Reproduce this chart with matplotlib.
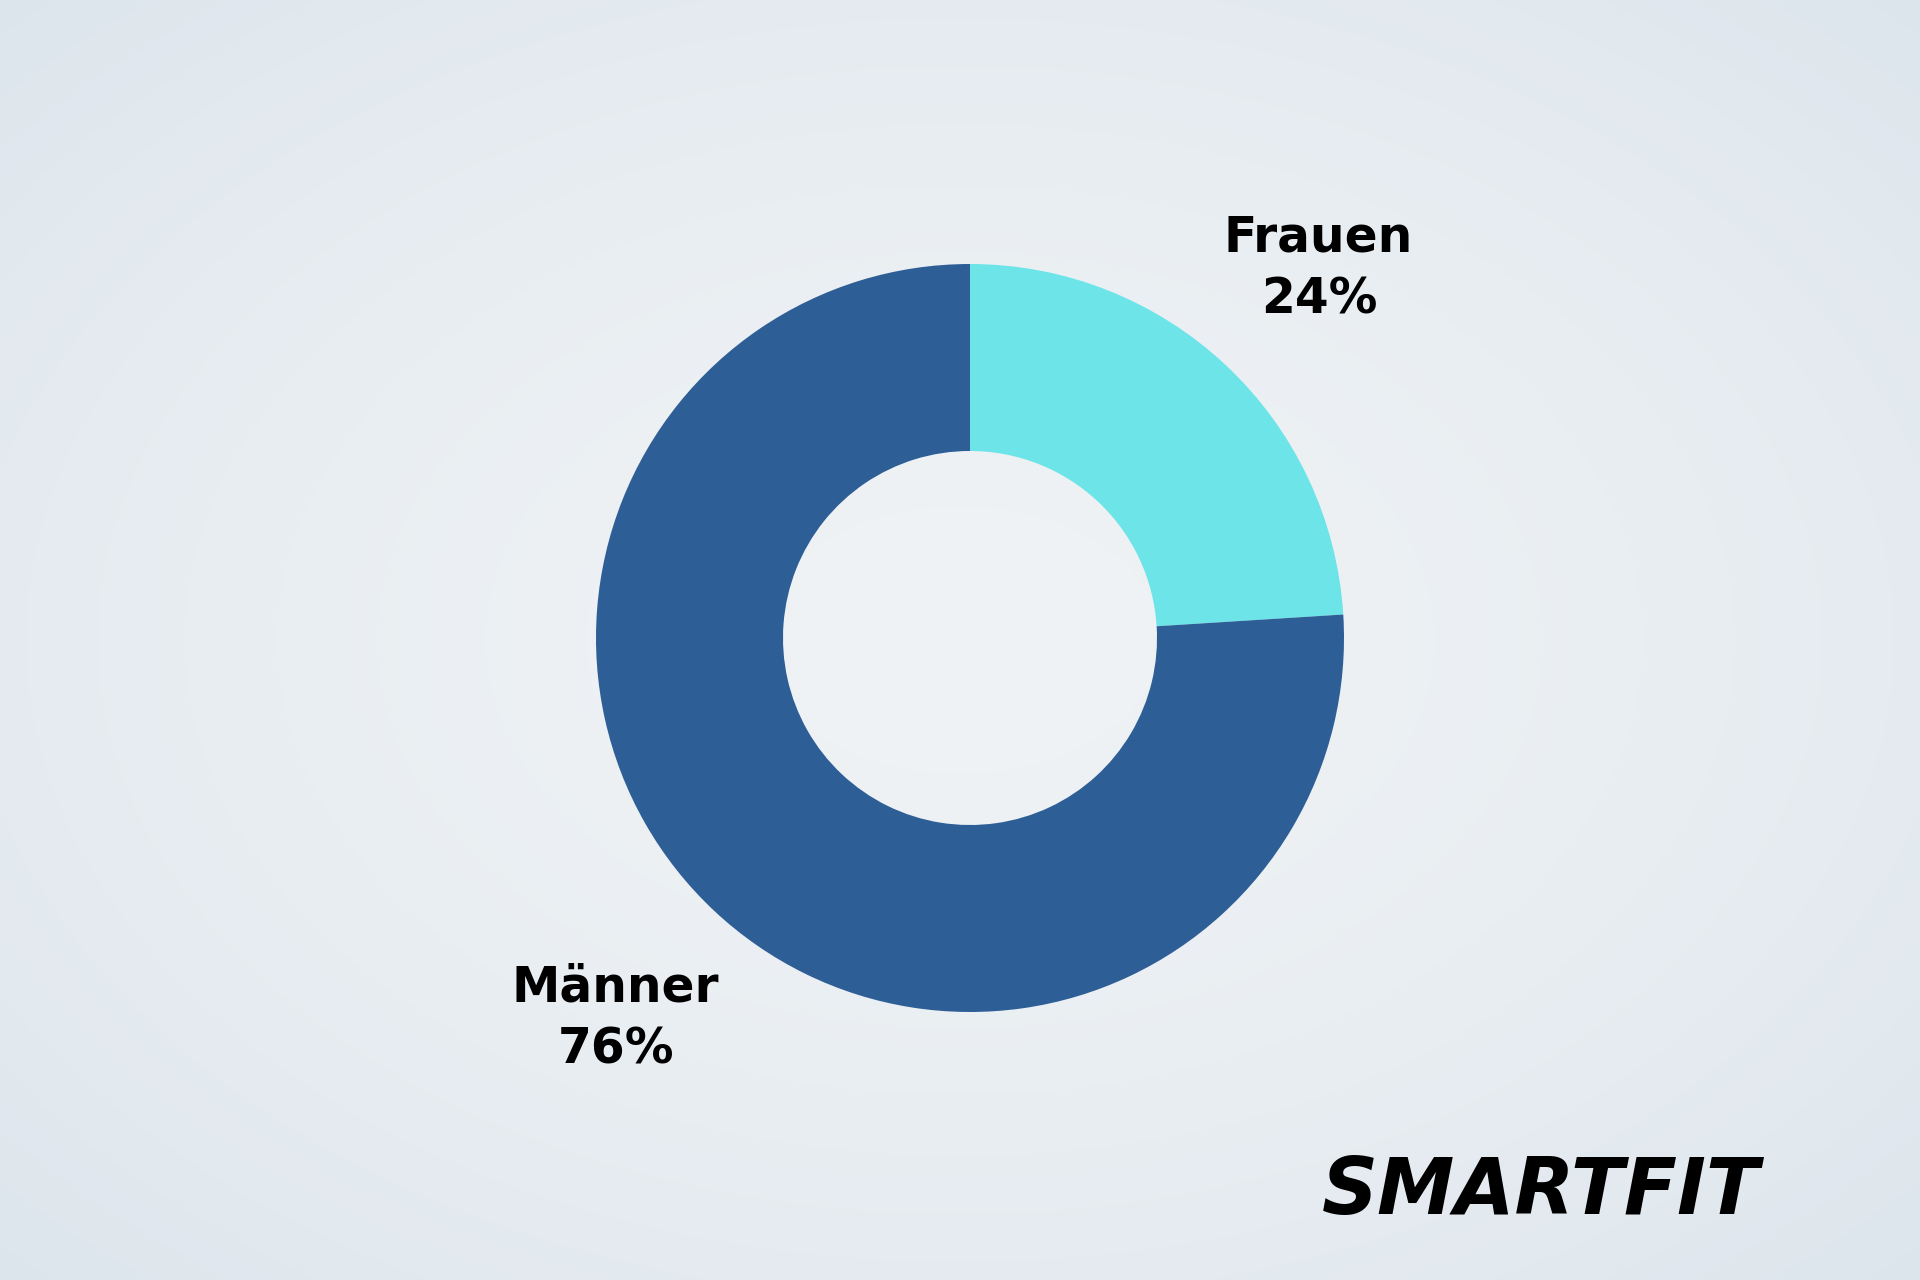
import numpy as np
import matplotlib.pyplot as plt

labels = ["Frauen", "Männer"]
shares = [24, 76]
colors = ["#6ce4e8", "#2e5e96"]

W, H = 1920, 1280
fig = plt.figure(figsize=(19.2, 12.8), dpi=100)
ax = fig.add_axes([0, 0, 1, 1])

# soft snowy background: lighter middle, bluish-gray edges
yy, xx = np.mgrid[0:1:256j, 0:1:384j]
d = np.sqrt(((xx - 0.5) / 0.75) ** 2 + ((yy - 0.5) / 0.75) ** 2)
d = np.clip(d, 0, 1)
inner = np.array([0.94, 0.952, 0.962])
outer = np.array([0.86, 0.895, 0.925])
bg = inner + (outer - inner) * d[..., None] ** 1.5
ax.imshow(bg, extent=[0, W, 0, H], aspect="auto", zorder=0, interpolation="bilinear")

cx, cy, r = 970, H - 638, 374
ax.pie(shares, colors=colors, startangle=90, counterclock=False,
       center=(cx, cy), radius=r,
       wedgeprops=dict(width=r * 0.5, linewidth=0))

font = dict(fontsize=35, fontweight="heavy", color="black",
            ha="center", va="center", family="DejaVu Sans")
ax.text(1318, H - 238, labels[0], **font)
ax.text(1319, H - 300, f"{shares[0]}%", **font)
ax.text(615, H - 987, labels[1], **font)
ax.text(616, H - 1050, f"{shares[1]}%", **font)

ax.text(1541, H - 1192, "SMARTFIT", fontsize=56, fontweight="bold",
        fontstyle="italic", color="black", ha="center", va="center",
        family="DejaVu Sans")

ax.set_xlim(0, W)
ax.set_ylim(0, H)
ax.set_aspect("equal")
ax.axis("off")

fig.savefig("out.png", dpi=100)
